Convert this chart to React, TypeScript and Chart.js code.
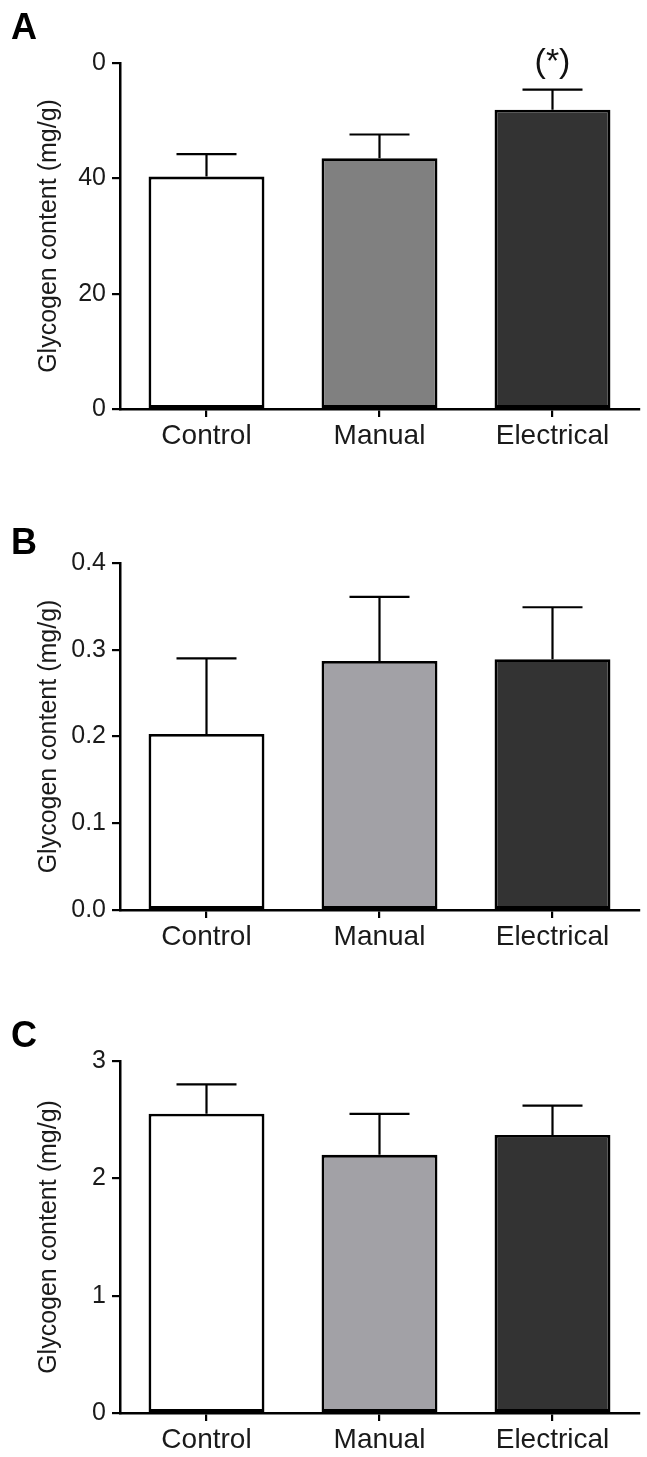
import React, { useEffect, useRef } from "react";
import { Chart, registerables } from "chart.js";

Chart.register(...registerables);

const categories = ["Control", "Manual", "Electrical"];

const valuesA = [40.3, 43.5, 51.9];
const semA = [3.9, 4.1, 3.5];
const ticksA = ["0", "20", "40", "0"];
const colorsA = ["#ffffff", "#808080", "#333333"];

const valuesB = [0.203, 0.287, 0.289];
const semB = [0.087, 0.074, 0.06];
const ticksB = ["0.0", "0.1", "0.2", "0.3", "0.4"];
const colorsB = ["#ffffff", "#a2a1a6", "#333333"];

const valuesC = [2.55, 2.2, 2.37];
const semC = [0.25, 0.35, 0.25];
const ticksC = ["0", "1", "2", "3"];
const colorsC = ["#ffffff", "#a2a1a6", "#333333"];

const FONT = "'Liberation Sans', Arial, sans-serif";

type PanelProps = {
  letter: string;
  letterTop: number;
  top: number;
  height: number;
  plotTop: number;
  plotBottom: number;
  values: number[];
  sem: number[];
  colors: string[];
  tickLabels: string[];
  max: number;
  step: number;
  note?: { index: number; text: string };
};

function Panel(p: PanelProps) {
  const ref = useRef<HTMLCanvasElement | null>(null);
  useEffect(() => {
    if (!ref.current) return;
    const errorBars = {
      id: "errorBars",
      afterDatasetsDraw(chart: any) {
        const ctx = chart.ctx;
        const meta = chart.getDatasetMeta(0);
        const ys = chart.scales.y;
        ctx.save();
        ctx.strokeStyle = "#000";
        ctx.lineWidth = 2.2;
        p.values.forEach((v, i) => {
          const bar = meta.data[i];
          const x = bar.x;
          const y0 = ys.getPixelForValue(v);
          const y1 = ys.getPixelForValue(v + p.sem[i]);
          ctx.beginPath();
          ctx.moveTo(x, y0);
          ctx.lineTo(x, y1);
          ctx.moveTo(x - 30, y1);
          ctx.lineTo(x + 30, y1);
          ctx.stroke();
          if (p.note && p.note.index === i) {
            ctx.fillStyle = "#111";
            ctx.font = `34px ${FONT}`;
            ctx.textAlign = "center";
            ctx.textBaseline = "middle";
            ctx.fillText(p.note.text, x, y1 - 27);
          }
        });
        ctx.restore();
      },
    };
    const chart = new Chart(ref.current, {
      type: "bar",
      data: {
        labels: categories,
        datasets: [
          {
            data: p.values,
            backgroundColor: p.colors,
            borderColor: "#000",
            borderWidth: 2.8,
            borderSkipped: false,
            categoryPercentage: 1,
            barPercentage: 0.67,
          },
        ],
      },
      options: {
        animation: false,
        responsive: false,
        devicePixelRatio: 1,
        layout: { padding: { top: p.plotTop, right: 8, left: 0, bottom: 0 } },
        plugins: { legend: { display: false }, tooltip: { enabled: false } },
        scales: {
          x: {
            type: "category",
            offset: true,
            grid: {
              offset: false,
              drawOnChartArea: false,
              drawTicks: true,
              tickLength: 8,
              color: "#000",
              lineWidth: 2.2,
            },
            border: { display: true, color: "#000", width: 2.5 },
            ticks: {
              color: "#1a1a1a",
              font: { family: FONT, size: 28 },
              padding: 2,
              maxRotation: 0,
            },
            afterFit(scale: any) {
              scale.height = p.height - p.plotBottom;
            },
          },
          y: {
            min: 0,
            max: p.max,
            grid: {
              drawOnChartArea: false,
              drawTicks: true,
              tickLength: 8,
              color: "#000",
              lineWidth: 2.2,
            },
            border: { display: true, color: "#000", width: 2.5 },
            ticks: {
              stepSize: p.step,
              color: "#1a1a1a",
              font: { family: FONT, size: 25 },
              padding: 6,
              callback: (_v: any, i: number) => p.tickLabels[i],
            },
            title: {
              display: true,
              text: "Glycogen content (mg/g)",
              color: "#1a1a1a",
              font: { family: FONT, size: 25 },
              padding: { top: 34, bottom: 0 },
            },
            afterFit(scale: any) {
              scale.width = 120;
            },
          },
        },
      },
      plugins: [errorBars],
    } as any);
    return () => chart.destroy();
  }, []);
  return (
    <div style={{ position: "absolute", left: 0, top: p.top, width: 647, height: p.height }}>
      <canvas ref={ref} width={647} height={p.height} style={{ width: 647, height: p.height, display: "block" }} />
      <div
        style={{
          position: "absolute",
          left: 11,
          top: p.letterTop,
          fontFamily: FONT,
          fontWeight: "bold",
          fontSize: 36,
          lineHeight: "40px",
          color: "#000",
        }}
      >
        {p.letter}
      </div>
    </div>
  );
}

export default function App() {
  return (
    <div style={{ position: "absolute", left: 0, top: 0, width: 647, height: 1457, background: "#fff" }}>
      <Panel
        letter="A"
        letterTop={7}
        top={0}
        height={480}
        plotTop={63}
        plotBottom={409}
        values={valuesA}
        sem={semA}
        colors={colorsA}
        tickLabels={ticksA}
        max={60}
        step={20}
        note={{ index: 2, text: "(*)" }}
      />
      <Panel
        letter="B"
        letterTop={42}
        top={480}
        height={495}
        plotTop={83}
        plotBottom={430}
        values={valuesB}
        sem={semB}
        colors={colorsB}
        tickLabels={ticksB}
        max={0.4}
        step={0.1}
      />
      <Panel
        letter="C"
        letterTop={40}
        top={975}
        height={482}
        plotTop={86}
        plotBottom={438}
        values={valuesC}
        sem={semC}
        colors={colorsC}
        tickLabels={ticksC}
        max={3}
        step={1}
      />
    </div>
  );
}
